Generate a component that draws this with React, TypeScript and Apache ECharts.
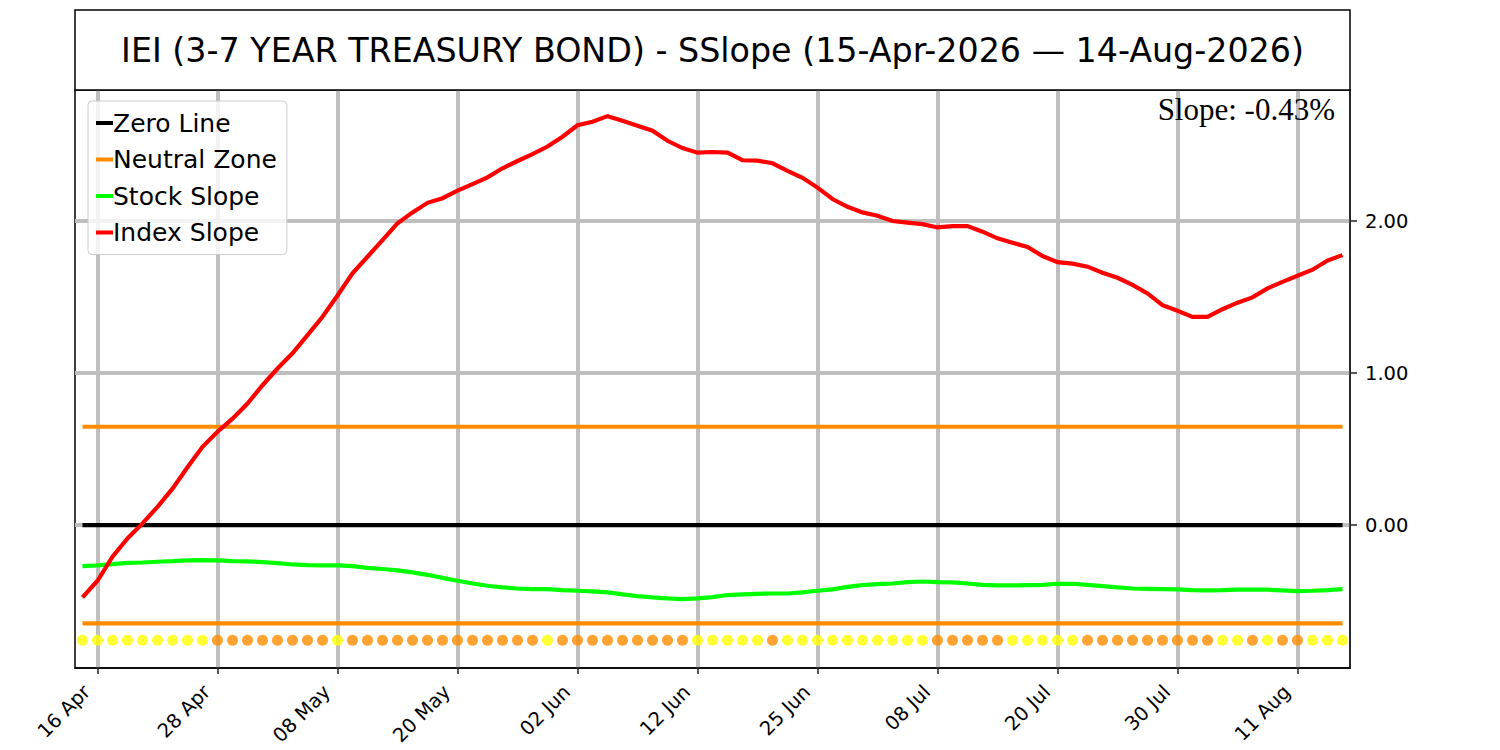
import React, { useEffect, useRef } from "react";
import * as echarts from "echarts";

// Trading days 15 Apr 2026 .. 14 Aug 2026
const tradingDays = [
  "15 Apr", "16 Apr", "17 Apr", "20 Apr", "21 Apr", "22 Apr", "23 Apr", "24 Apr", "27 Apr", "28 Apr", "29 Apr", "30 Apr",
  "01 May", "04 May", "05 May", "06 May", "07 May", "08 May", "11 May", "12 May", "13 May", "14 May", "15 May", "18 May",
  "19 May", "20 May", "21 May", "22 May", "26 May", "27 May", "28 May", "29 May",
  "01 Jun", "02 Jun", "03 Jun", "04 Jun", "05 Jun", "08 Jun", "09 Jun", "10 Jun", "11 Jun", "12 Jun", "15 Jun", "16 Jun",
  "17 Jun", "18 Jun", "22 Jun", "23 Jun", "24 Jun", "25 Jun", "26 Jun", "29 Jun", "30 Jun",
  "01 Jul", "02 Jul", "06 Jul", "07 Jul", "08 Jul", "09 Jul", "10 Jul", "13 Jul", "14 Jul", "15 Jul", "16 Jul", "17 Jul",
  "20 Jul", "21 Jul", "22 Jul", "23 Jul", "24 Jul", "27 Jul", "28 Jul", "29 Jul", "30 Jul", "31 Jul",
  "03 Aug", "04 Aug", "05 Aug", "06 Aug", "07 Aug", "10 Aug", "11 Aug", "12 Aug", "13 Aug", "14 Aug",
];

// indices of the labelled ticks (16 Apr, 28 Apr, ... 11 Aug)
const xTickIndices = [1, 9, 17, 25, 33, 41, 49, 57, 65, 73, 81];
const yTickValues = [0, 1, 2];

const indexSlope = [
  -0.476, -0.366, -0.208, -0.088, 0.011, 0.12, 0.24, 0.38, 0.515, 0.614,
  0.70, 0.80, 0.92, 1.03, 1.13, 1.25, 1.37, 1.51, 1.656, 1.765,
  1.875, 1.985, 2.057, 2.12, 2.15, 2.20, 2.243, 2.287, 2.347, 2.395,
  2.44, 2.49, 2.555, 2.63, 2.653, 2.69, 2.66, 2.627, 2.594, 2.528,
  2.48, 2.45, 2.454, 2.45, 2.40, 2.397, 2.38, 2.33, 2.285, 2.22,
  2.145, 2.094, 2.057, 2.035, 2.00, 1.99, 1.98, 1.958, 1.967, 1.967,
  1.93, 1.886, 1.857, 1.83, 1.77, 1.73, 1.72, 1.70, 1.66, 1.627,
  1.58, 1.524, 1.447, 1.41, 1.37, 1.37, 1.42, 1.463, 1.498, 1.557,
  1.60, 1.64, 1.68, 1.74, 1.776,
];

const stockSlope = [
  -0.270, -0.265, -0.257, -0.248, -0.246, -0.241, -0.237, -0.232, -0.230, -0.232,
  -0.237, -0.239, -0.243, -0.250, -0.259, -0.263, -0.265, -0.265, -0.270, -0.281,
  -0.289, -0.298, -0.311, -0.327, -0.347, -0.366, -0.384, -0.399, -0.410, -0.417,
  -0.421, -0.421, -0.428, -0.432, -0.436, -0.443, -0.456, -0.467, -0.476, -0.482,
  -0.487, -0.482, -0.474, -0.460, -0.456, -0.452, -0.450, -0.450, -0.443, -0.432,
  -0.423, -0.406, -0.395, -0.388, -0.384, -0.375, -0.371, -0.375, -0.377, -0.384,
  -0.393, -0.397, -0.397, -0.395, -0.393, -0.386, -0.386, -0.393, -0.401, -0.410,
  -0.417, -0.419, -0.421, -0.423, -0.428, -0.430, -0.428, -0.425, -0.425, -0.425,
  -0.430, -0.434, -0.432, -0.428, -0.421,
];

// Y = yellow, O = orange marker per trading day
const dotStates = [
  "Y", "Y", "Y", "Y", "Y", "Y", "Y", "Y", "Y",
  "O", "O", "O", "O", "O", "O", "O", "O",
  "Y",
  "O", "O", "O", "O", "O", "O", "O", "O", "O", "O", "O", "O", "O",
  "Y",
  "O", "O", "O", "O", "O", "O", "O", "O", "O",
  "Y", "Y", "Y", "Y", "Y",
  "O",
  "Y", "Y", "Y", "Y", "Y", "Y", "Y", "Y", "Y", "Y",
  "O", "O", "O", "O", "O",
  "Y", "Y", "Y", "Y", "Y",
  "O", "O", "O", "O", "O", "O", "O", "O", "O",
  "Y", "Y",
  "O",
  "Y",
  "O", "O",
  "Y", "Y", "Y",
];

const zeroLevel = 0;
const neutralLevel = 0.647;
const markerLevel = -0.757;
const slopeText = "Slope: -0.43%";
const titleText = "IEI (3-7 YEAR TREASURY BOND) - SSlope (15-Apr-2026 \u2014 14-Aug-2026)";

const FONT = "DejaVu Sans";

export default function App() {
  const ref = useRef<HTMLDivElement>(null);

  useEffect(() => {
    if (!ref.current) return;
    const chart = echarts.init(ref.current, undefined, { renderer: "svg" });

    const pairs = (vals: number[]) => vals.map((v, i) => [i, v]);
    const constant = (v: number) => tradingDays.map((_, i) => [i, v]);

    const lineBase = {
      type: "line" as const,
      symbol: "none",
      silent: true,
      emphasis: { disabled: true },
    };

    const option: any = {
      animation: false,
      backgroundColor: "#ffffff",
      textStyle: { fontFamily: FONT },
      grid: {
        left: 75,
        right: 150,
        top: 90,
        bottom: 82,
        show: true,
        borderColor: "#000000",
        borderWidth: 1.5,
        backgroundColor: "transparent",
      },
      legend: {
        left: 88,
        top: 101,
        orient: "vertical",
        data: ["Zero Line", "Neutral Zone", "Stock Slope", "Index Slope"],
        icon: "rect",
        itemWidth: 17,
        itemHeight: 4,
        itemGap: 8.5,
        padding: [8, 10, 8, 8],
        backgroundColor: "rgba(255,255,255,0.8)",
        borderColor: "#cccccc",
        borderWidth: 1,
        borderRadius: 4,
        selectedMode: false,
        textStyle: {
          fontFamily: FONT,
          fontSize: 25,
          lineHeight: 28,
          color: "#000000",
          padding: [0, 0, 0, -5],
        },
      },
      xAxis: {
        type: "value",
        min: -0.5,
        max: tradingDays.length - 0.5,
        axisLine: { show: true, onZero: false, lineStyle: { color: "#000000", width: 1.5 } },
        axisTick: {
          show: true,
          customValues: xTickIndices,
          length: 6,
          lineStyle: { color: "#222222", width: 1.5 },
        },
        axisLabel: {
          customValues: xTickIndices,
          formatter: (v: number) => tradingDays[Math.round(v)] ?? "",
          rotate: 45,
          margin: 10,
          padding: [0, 15, 0, 0],
          fontFamily: FONT,
          fontSize: 19.5,
          color: "#000000",
        },
        splitLine: { show: true, lineStyle: { color: "#bfbfbf", width: 4 } },
      },
      yAxis: {
        type: "value",
        position: "right",
        min: -0.94,
        max: 2.862,
        axisLine: { show: true, onZero: false, lineStyle: { color: "#222222", width: 1.5 } },
        axisTick: {
          show: true,
          customValues: yTickValues,
          length: 7,
          lineStyle: { color: "#222222", width: 1.5 },
        },
        axisLabel: {
          customValues: yTickValues,
          formatter: (v: number) => v.toFixed(2),
          margin: 15,
          fontFamily: FONT,
          fontSize: 19.5,
          color: "#000000",
        },
        splitLine: { show: true, lineStyle: { color: "#bfbfbf", width: 4 } },
      },
      series: [
        {
          ...lineBase,
          name: "Zero Line",
          color: "#000000",
          data: constant(zeroLevel),
          lineStyle: { color: "#000000", width: 4.2 },
          z: 3,
        },
        {
          ...lineBase,
          name: "Neutral Zone",
          color: "#ff8c00",
          data: constant(neutralLevel),
          lineStyle: { color: "#ff8c00", width: 4.2 },
          z: 3,
        },
        {
          ...lineBase,
          name: "Neutral Zone",
          color: "#ff8c00",
          data: constant(-neutralLevel),
          lineStyle: { color: "#ff8c00", width: 4.2 },
          z: 3,
        },
        {
          ...lineBase,
          name: "Stock Slope",
          color: "#00ff00",
          data: pairs(stockSlope),
          lineStyle: { color: "#00ff00", width: 4.2 },
          z: 4,
        },
        {
          ...lineBase,
          name: "Index Slope",
          color: "#ff0000",
          data: pairs(indexSlope),
          lineStyle: { color: "#ff0000", width: 4.2, join: "miter" },
          z: 5,
        },
        {
          type: "scatter",
          name: "Markers",
          silent: true,
          emphasis: { disabled: true },
          symbol: "circle",
          symbolSize: 11,
          z: 6,
          data: dotStates.map((s, i) => ({
            value: [i, markerLevel],
            itemStyle: { color: s === "Y" ? "#ffff00" : "#ff8c00" },
          })),
        },
      ],
      graphic: [
        {
          type: "rect",
          shape: { x: 75, y: 10, width: 1275, height: 80 },
          style: { fill: "#ffffff", stroke: "#000000", lineWidth: 1.5 },
          z: 10,
        },
        {
          type: "text",
          x: 712.5,
          y: 50,
          style: {
            text: titleText,
            fontFamily: FONT,
            fontSize: 33.3,
            fill: "#000000",
            textAlign: "center",
            textVerticalAlign: "middle",
          },
          z: 11,
        },
        {
          type: "text",
          x: 1335,
          y: 109,
          style: {
            text: slopeText,
            fontFamily: "Liberation Serif",
            fontSize: 31,
            fill: "#000000",
            textAlign: "right",
            textVerticalAlign: "middle",
          },
          z: 11,
        },
      ],
    };

    chart.setOption(option);
    return () => chart.dispose();
  }, []);

  return (
    <div
      ref={ref}
      style={{ position: "absolute", left: 0, top: 0, width: 1500, height: 750 }}
    />
  );
}
